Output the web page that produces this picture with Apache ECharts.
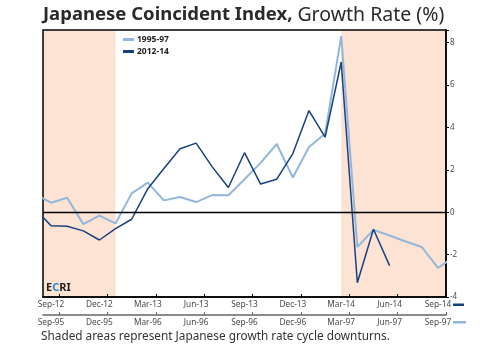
<!DOCTYPE html>
<html>
<head>
<meta charset="utf-8">
<script src="https://cdn.jsdelivr.net/npm/echarts@6/dist/echarts.min.js"></script>
<style>
  html, body { margin: 0; padding: 0; background: #fff; }
  #chart { width: 495px; height: 350px; }
</style>
</head>
<body>
<div id="chart"></div>
<script>
// months shown on the two x axes (one month before and after the visible window)
var months2012 = ['Aug-12','Sep-12','Oct-12','Nov-12','Dec-12','Jan-13','Feb-13','Mar-13','Apr-13','May-13','Jun-13',
  'Jul-13','Aug-13','Sep-13','Oct-13','Nov-13','Dec-13','Jan-14','Feb-14','Mar-14','Apr-14','May-14','Jun-14',
  'Jul-14','Aug-14','Sep-14','Oct-14'];
var months1995 = ['Aug-95','Sep-95','Oct-95','Nov-95','Dec-95','Jan-96','Feb-96','Mar-96','Apr-96','May-96','Jun-96',
  'Jul-96','Aug-96','Sep-96','Oct-96','Nov-96','Dec-96','Jan-97','Feb-97','Mar-97','Apr-97','May-97','Jun-97',
  'Jul-97','Aug-97','Sep-97','Oct-97'];

var ticks2012 = ['Sep-12','Dec-12','Mar-13','Jun-13','Sep-13','Dec-13','Mar-14','Jun-14','Sep-14'];
var ticks1995 = ['Sep-95','Dec-95','Mar-96','Jun-96','Sep-96','Dec-96','Mar-97','Jun-97','Sep-97'];

// growth rate (%), monthly
var growth1995 = [0.86, 0.45, 0.68, -0.56, -0.16, -0.53, 0.89, 1.40, 0.56, 0.72, 0.48, 0.81, 0.80, 1.56,
  2.33, 3.22, 1.64, 3.08, 3.70, 8.31, -1.64, -0.83, -1.10, -1.38, -1.64, -2.63, -2.10];
var growth2012 = [0.17, -0.64, -0.66, -0.88, -1.31, -0.77, -0.33, 1.11, 2.06, 3.00, 3.26, 2.14, 1.17, 2.81,
  1.33, 1.56, 2.77, 4.80, 3.54, 7.09, -3.33, -0.80, -2.52];

// shaded downturns (2012-14 months); null = runs past the edge of the window
var downturns = [[null, 'Jan-13'], ['Mar-14', null]];

var yTicks = [-4, -2, 0, 2, 4, 6, 8];

var chart = echarts.init(document.getElementById('chart'));

function pairs(vals) {
  return vals.map(function (v, i) { return [i, v]; });
}
function idx(list, name) { return list.indexOf(name); }

var xMin = idx(months2012, 'Sep-12') - 0.5;
var xMax = idx(months2012, 'Sep-14') + 0.5;

var font = 'Noto Sans';

function bottomAxis(months, ticks, offset, lineColor) {
  return {
    type: 'value',
    position: 'bottom',
    min: xMin,
    max: xMax,
    offset: offset,
    splitLine: { show: false },
    axisLine: { show: true, onZero: false, lineStyle: { color: lineColor, width: 1.5 } },
    axisTick: {
      show: true, inside: true, length: 3,
      lineStyle: { color: lineColor, width: 1 },
      customValues: ticks.map(function (t) { return idx(months, t) + 0.5; })
    },
    axisLabel: {
      show: true, margin: 4, fontSize: 8.3, color: '#4a4a4a',
      fontFamily: font,
      customValues: ticks.map(function (t) { return idx(months, t); }),
      formatter: function (v) { return months[Math.round(v)]; }
    }
  };
}

var option = {
  animation: false,
  title: [{
    left: 43,
    top: 5,
    padding: 0,
    text: '{b|Japanese Coincident Index,} {n|Growth Rate (%)}',
    textStyle: {
      rich: {
        b: { fontFamily: font, fontWeight: 'bold', fontSize: 18.5, color: '#2a2a2a' },
        n: { fontFamily: font, fontWeight: 'normal', fontSize: 19.5, color: '#2a2a2a' }
      }
    }
  }, {
    left: 41,
    top: 331,
    padding: 0,
    text: 'Shaded areas represent Japanese growth rate cycle downturns.',
    textStyle: { fontFamily: font, fontWeight: 'normal', fontSize: 11.8, color: '#333' }
  }],
  legend: {
    left: 118,
    top: 30,
    orient: 'vertical',
    itemGap: 3,
    itemWidth: 11,
    itemHeight: 3,
    icon: 'rect',
    data: ['1995-97', '2012-14'],
    textStyle: { fontFamily: font, fontWeight: 'bold', fontSize: 8.5, color: '#222', padding: [0, 0, 0, -2] }
  },
  grid: {
    left: 43, right: 49, top: 30, bottom: 53,
    show: true, borderColor: '#000', borderWidth: 1.5, backgroundColor: 'transparent'
  },
  xAxis: [
    bottomAxis(months2012, ticks2012, 0, '#000'),
    bottomAxis(months1995, ticks1995, 18, '#666')
  ],
  yAxis: {
    type: 'value',
    position: 'right',
    min: -4,
    max: 8.6,
    interval: 2,
    splitLine: { show: false },
    axisLine: { show: true, lineStyle: { color: '#000', width: 1.5 } },
    axisTick: { show: true, length: 3, lineStyle: { color: '#000' } },
    axisLabel: {
      margin: 4, fontSize: 8, color: '#4a4a4a', fontFamily: font,
      formatter: function (v) { return yTicks.indexOf(v) >= 0 ? String(v) : ''; }
    }
  },
  graphic: [{
    type: 'text', left: 46, top: 282,
    style: {
      text: '{e|E}{c|C}{e|RI}',
      rich: {
        e: { fontFamily: font, fontWeight: 'bold', fontSize: 11, fill: '#231f20' },
        c: { fontFamily: font, fontWeight: 'bold', fontSize: 11, fill: '#1f8ad0' }
      }
    }
  }, {
    type: 'rect', right: 31, top: 303.5, shape: { width: 11, height: 2.5 }, style: { fill: '#17417e' }
  }, {
    type: 'rect', right: 29, top: 321, shape: { width: 13, height: 2.5 }, style: { fill: '#93b7dc' }
  }],
  series: [{
    type: 'line',
    name: 'shade',
    z: -1,
    silent: true,
    data: [],
    markArea: {
      silent: true,
      z: -1,
      itemStyle: { color: '#fde3d4' },
      data: downturns.map(function (d) {
        return [
          { xAxis: d[0] === null ? xMin : idx(months2012, d[0]) },
          { xAxis: d[1] === null ? xMax : idx(months2012, d[1]) }
        ];
      })
    }
  }, {
    type: 'line',
    name: '1995-97',
    xAxisIndex: 1,
    data: pairs(growth1995),
    symbol: 'none',
    color: '#93b7dc',
    lineStyle: { color: '#93b7dc', width: 2 },
    markLine: {
      silent: true, symbol: 'none', label: { show: false },
      lineStyle: { color: '#000', width: 1.3, type: 'solid' },
      data: [{ yAxis: 0 }]
    }
  }, {
    type: 'line',
    name: '2012-14',
    xAxisIndex: 0,
    data: pairs(growth2012),
    symbol: 'none',
    color: '#17417e',
    lineStyle: { color: '#17417e', width: 1.5 }
  }]
};

chart.setOption(option);
</script>
</body>
</html>
